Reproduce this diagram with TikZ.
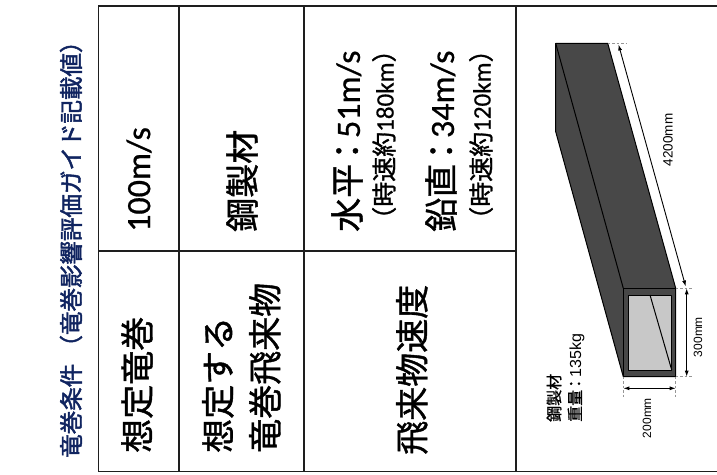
\documentclass[tikz,border=0pt]{standalone}
\usepackage{fontspec}
\usetikzlibrary{arrows.meta}
\newfontfamily\jp[FakeBold=1.2]{Noto Sans CJK JP}
\newfontfamily\jptitle[FakeBold=2]{Noto Sans CJK JP}
\newfontfamily\lat[FakeBold=0.6]{Carlito}
\newfontfamily\arl{Liberation Sans}
\definecolor{titleblue}{RGB}{16,36,96}
\definecolor{linec}{RGB}{30,30,30}
\definecolor{boxdark}{RGB}{72,72,72}
\definecolor{boxlight}{RGB}{200,200,200}
\definecolor{dashc}{RGB}{150,150,150}
\newcommand{\jcolon}{\hspace{-0.12em}：\hspace{-0.12em}}
\begin{document}
\begin{tikzpicture}[x=1pt,y=-1pt,
  outline/.style={draw=linec,line width=1.5pt},
  tline/.style={draw=linec,line width=2pt},
  rtext/.style={rotate=90,anchor=west,inner sep=0pt,text=black},
  big/.style={font=\fontsize{34}{47}\selectfont},
  small/.style={font=\fontsize{25}{30}\selectfont},
  dimline/.style={draw=black,line width=0.9pt,{Latex[length=6pt,width=4pt]}-{Latex[length=6pt,width=4pt]}},
  ext/.style={draw=dashc,line width=0.8pt,dash pattern=on 2.5pt off 2pt},
  boxedge/.style={draw=black,line width=1pt,line join=round},
  dimtext/.style={rotate=90,inner sep=0pt,font=\arl\fontsize{12}{14}\selectfont}
]
\useasboundingbox (0,0) rectangle (717,474);
% table
\coordinate (T0) at (98.3,6);
\coordinate (B0) at (98.3,471.5);
\coordinate (T4) at (717,6);
\coordinate (B4) at (717,471.5);
\coordinate (T1) at (179,6);   \coordinate (B1) at (179,471.5);
\coordinate (T2) at (304,6);   \coordinate (B2) at (304,471.5);
\coordinate (T3) at (516,6);   \coordinate (B3) at (516,471.5);
\coordinate (M0) at (98.3,251); \coordinate (M3) at (516,251);
\draw[outline] (T4) -- (T0) -- (B0) -- (B4);
\draw[tline] (T1) -- (B1);
\draw[tline] (T2) -- (B2);
\draw[tline] (T3) -- (B3);
\draw[tline] (M0) -- (M3);
% title
\node[rtext,text=titleblue,font=\jptitle\fontsize{23.5}{28}\selectfont] (title) at (71,458) {竜巻条件 （竜巻影響評価ガイド記載値）};
% cells
\node[rtext,big] (h1) at (137,453) {\jp 想定竜巻};
\node[rtext,big] (v1) at (139,232) {\lat 100m/s};
\node[rtext,big,align=left] (h2) at (241.5,453) {\jp 想定する\\\jp 竜巻飛来物};
\node[rtext,big] (v2) at (242,232) {\jp 鋼製材};
\node[rtext,big] (h3) at (412,455) {\jp 飛来物速度};
\node[rtext,big] (v3a) at (347,232) {\jp 水平\jcolon\lat 51m/s};
\node[rtext,small] (v3b) at (384,232) {\jp （時速約\lat 180km\jp ）};
\node[rtext,big] (v3c) at (441,232) {\jp 鉛直\jcolon\lat 34m/s};
\node[rtext,small] (v3d) at (481,232) {\jp （時速約\lat 120km\jp ）};
% steel box
\coordinate (bTL) at (555.7,43.3);
\coordinate (bTR) at (607.7,43.3);
\coordinate (bBL) at (555.7,131.7);
\coordinate (fTL) at (623.3,288.3);
\coordinate (fTR) at (675.7,288.3);
\coordinate (fBR) at (675.7,376.7);
\coordinate (fBL) at (623.3,376.7);
\coordinate (iTL) at (628.3,295);
\coordinate (iBR) at (671.7,370);
\coordinate (iA) at (650,295);
\coordinate (iB) at (671.7,370);
\fill[boxdark] (bTL) -- (bTR) -- (fTR) -- (fBR) -- (fBL) -- (bBL) -- cycle;
\draw[boxedge] (bTL) -- (bTR) -- (fTR) -- (fBR) -- (fBL) -- (bBL) -- cycle;
\draw[boxedge] (bTL) -- (fTL);
\draw[boxedge] (fTL) rectangle (fBR);
\draw[boxedge,fill=boxlight] (iTL) rectangle (iBR);
\draw[boxedge] (iA) -- (iB);
% extension lines
\coordinate (e1) at (627,43.3);
\coordinate (e2) at (692,288.3);
\coordinate (e3) at (692,376.7);
\coordinate (e4) at (623.3,398);
\coordinate (e5) at (675.7,398);
\draw[ext] (bTR) -- (e1);
\draw[ext] (fTR) -- (e2);
\draw[ext] (fBR) -- (e3);
\draw[ext] (fBL) -- (e4);
\draw[ext] (fBR) -- (e5);
% dimension arrows
\coordinate (d1a) at (618.5,44.5);
\coordinate (d1b) at (685.7,286.5);
\coordinate (d2a) at (686.7,288.3);
\coordinate (d2b) at (686.7,376.7);
\coordinate (d3a) at (623.3,388.3);
\coordinate (d3b) at (675.7,388.3);
\draw[dimline] (d1a) -- (d1b);
\draw[dimline] (d2a) -- (d2b);
\draw[dimline] (d3a) -- (d3b);
\node[dimtext,font=\arl\fontsize{13.5}{16}\selectfont] (l4200) at (668,140) {4200mm};
\node[dimtext] (l300) at (698,337) {300mm};
\node[dimtext] (l200) at (647,418) {200mm};
\node[rtext,align=left,font=\jp\fontsize{16}{21}\selectfont] (lab) at (565.5,422) {鋼製材\\重量\jcolon{\arl 135kg}};
\end{tikzpicture}
\end{document}
